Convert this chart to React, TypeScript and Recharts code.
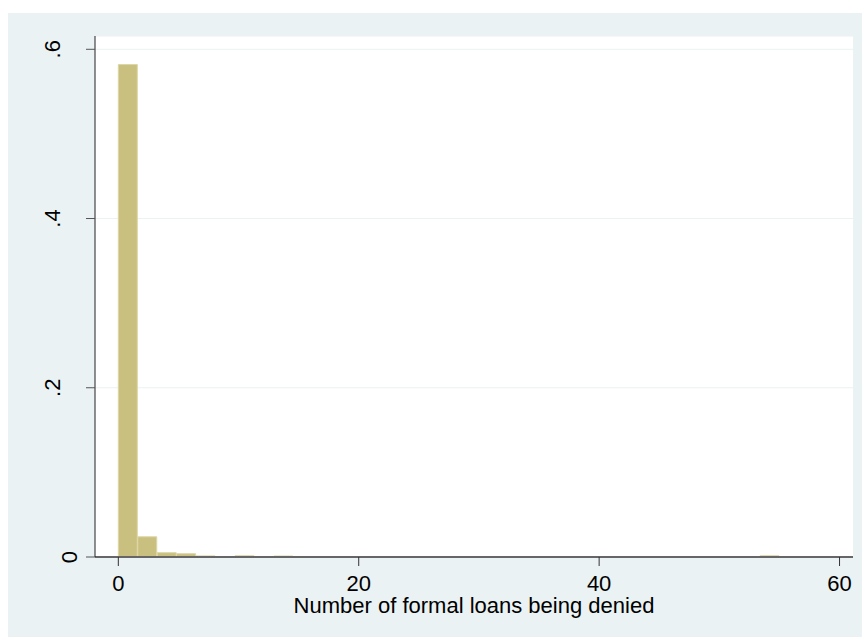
import React from 'react';
import { BarChart, Bar, XAxis, YAxis, CartesianGrid } from 'recharts';

// Histogram: 34 bins spanning 0..55 (number of formal loans denied), density scale
const binCount = 34;
const binUpper = 55;
const densities = [
  0.582, 0.0239, 0.0051, 0.0039, 0.0013, 0, 0.0015, 0, 0.0012, 0,
  0, 0, 0, 0, 0, 0, 0, 0, 0, 0,
  0, 0, 0, 0, 0, 0, 0, 0, 0, 0,
  0, 0, 0, 0.0015,
];
const xTicks = [0, 20, 40, 60];
const yTicks = [0, 0.2, 0.4, 0.6];
const yTickLabels = ['0', '.2', '.4', '.6'];
const xTitle = 'Number of formal loans being denied';

const binWidth = binUpper / binCount;
const data = densities.map((d, i) => ({ mid: i * binWidth + binWidth / 2, density: d }));

const FONT = '"Liberation Sans", Arial, Helvetica, sans-serif';
const BG = '#eaf2f3';

const XTick = (props: any) => {
  const { x, y, payload } = props;
  return (
    <text x={x} y={y + 23} textAnchor="middle" fontFamily={FONT} fontSize={22} fill="#000">
      {payload.value}
    </text>
  );
};

const YTick = (props: any) => {
  const { x, y, payload } = props;
  const idx = yTicks.indexOf(payload.value);
  const label = idx >= 0 ? yTickLabels[idx] : String(payload.value);
  // Stata places the zero label closer to the axis than the dotted decimals
  const bx = label === '0' ? x - 7 : x - 24;
  return (
    <text
      x={bx}
      y={y}
      transform={`rotate(-90, ${bx}, ${y})`}
      textAnchor="middle"
      fontFamily={FONT}
      fontSize={22}
      fill="#000"
    >
      {label}
    </text>
  );
};

export default function App() {
  return (
    <div
      style={{
        position: 'fixed',
        left: 8,
        top: 13,
        width: 854,
        height: 624,
        overflow: 'hidden',
        background: BG,
      }}
    >
      <BarChart
        width={854}
        height={624}
        data={data}
        margin={{ top: 23, right: 9, bottom: 20, left: 27 }}
        barCategoryGap={0}
        barGap={0}
        style={{ background: BG }}
      >
        <CartesianGrid vertical={false} stroke={BG} strokeWidth={1} fill="#ffffff" />
        <XAxis
          dataKey="mid"
          type="number"
          domain={[-1.94, 61.12]}
          allowDataOverflow
          ticks={xTicks}
          interval={0}
          height={60}
          tickSize={9}
          tick={<XTick />}
          axisLine={{ stroke: '#666', strokeWidth: 2 }}
          tickLine={{ stroke: '#333', strokeWidth: 1 }}
          label={{
            content: (p: any) => {
              const vb = p.viewBox;
              return (
                <text
                  x={vb.x + vb.width / 2}
                  y={vb.y + 56}
                  textAnchor="middle"
                  fontFamily={FONT}
                  fontSize={22}
                  fill="#000"
                >
                  {xTitle}
                </text>
              );
            },
          }}
        />
        <YAxis
          type="number"
          domain={[0, 0.6157]}
          allowDataOverflow
          ticks={yTicks}
          interval={0}
          width={60}
          tickSize={9}
          tick={<YTick />}
          axisLine={{ stroke: '#222', strokeWidth: 1 }}
          tickLine={{ stroke: '#555', strokeWidth: 1 }}
        />
        <Bar
          dataKey="density"
          fill="#c9c07f"
          stroke="#ddd6a8"
          strokeWidth={1}
          isAnimationActive={false}
        />
      </BarChart>
    </div>
  );
}
